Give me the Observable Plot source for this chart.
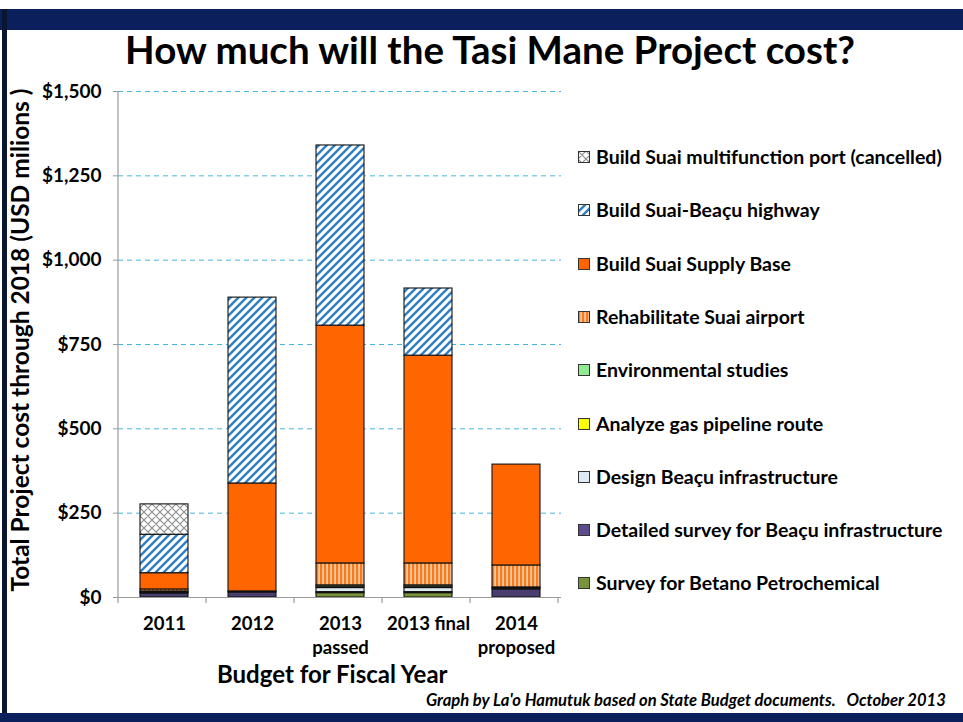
<!DOCTYPE html>
<html>
<head>
<meta charset="utf-8">
<script src="https://cdn.jsdelivr.net/npm/d3@7"></script>
<script src="https://cdn.jsdelivr.net/npm/@observablehq/plot@0.6"></script>
<style>
  html, body { margin: 0; padding: 0; background: #fff; }
  body { width: 963px; height: 722px; position: relative; overflow: hidden; font-family: Lato, "Open Sans", sans-serif; }
  .abs { position: absolute; }
  #topband { left: 0; top: 9px; width: 963px; height: 21px; background: #0b1f5c; }
  #leftband { left: 2px; top: 9px; width: 5px; height: 705px; background: #0a1530; }
  #botband { left: 0; top: 713px; width: 963px; height: 9px; background: #0b1f5c; }
  #title { left: 0; top: 26px; width: 980px; text-align: center; font-size: 38.5px; font-weight: 700; color: #000; white-space: nowrap; line-height: 46px; }
  #ylabel { width: 600px; left: -280px; top: 325px; text-align: center; font-size: 24.5px; font-weight: 700; transform: rotate(-90deg); white-space: nowrap; line-height: 30px; }
  #xlabel { left: 217px; top: 659px; font-size: 24px; font-weight: 700; white-space: nowrap; line-height: 30px; }
  #caption { left: 426px; top: 689px; font-size: 16.6px; font-weight: 700; font-style: italic; white-space: pre; line-height: 22px; }
  #chart { left: 0; top: 0; }
  #chart svg text { font-family: Lato, "Open Sans", sans-serif; font-weight: 700; }
  #legend { left: 578px; top: 0; }
  .lg { position: absolute; left: 0; white-space: nowrap; font-size: 19.5px; font-weight: 700; line-height: 24px; }
  .lg svg { vertical-align: middle; margin-right: 6px; position: relative; top: -2px; }
</style>
</head>
<body>
<div id="topband" class="abs"></div>
<div id="leftband" class="abs"></div>
<div id="botband" class="abs"></div>
<div id="chart" class="abs"></div>
<div id="title" class="abs">How much will the Tasi Mane Project cost?</div>
<div id="ylabel" class="abs">Total Project cost through 2018 (USD milions )</div>
<div id="xlabel" class="abs">Budget for Fiscal Year</div>
<div id="legend" class="abs"></div>
<div id="caption" class="abs">Graph by La'o Hamutuk based on State Budget documents.   October 2013</div>
<script>
// ---- data ----
const years = ["2011", "2012", "2013 passed", "2013 final", "2014 proposed"];
const yearLabels = ["2011", "2012", "2013\npassed", "2013 final", "2014\nproposed"];
const yTicks = [0, 250, 500, 750, 1000, 1250, 1500];

// series listed bottom-to-top of the stack
const seriesNames = [
  "Survey for Betano Petrochemical",
  "Detailed survey for Beaçu infrastructure",
  "Design Beaçu infrastructure",
  "Analyze gas pipeline route",
  "Environmental studies",
  "Rehabilitate Suai airport",
  "Build Suai Supply Base",
  "Build Suai-Beaçu highway",
  "Build Suai multifunction port (cancelled)"
];
const betano        = [0, 0, 13, 13, 0];
const detailedSurvey= [12, 15, 3, 3, 24];
const designBeacu   = [0, 0, 12, 12, 0];
const gasPipeline   = [3, 0, 4, 4, 3];
const environmental = [3, 3, 4, 4, 3];
const airport       = [6, 0, 65, 65, 65];
const supplyBase    = [48, 320, 705, 616, 299];
const highway       = [114, 551, 534, 199, 0];
const port          = [90, 0, 0, 0, 0];
const seriesValues = [betano, detailedSurvey, designBeacu, gasPipeline, environmental, airport, supplyBase, highway, port];

const seriesFills = [
  "#77933c", "#4a3d70", "#dde9f3", "#ffff00", "#92eb92",
  "url(#pAirport)", "#ff6600", "url(#pHighway)", "url(#pPort)"
];
const legendFills = [
  "#77933c", "#5d4b8c", "#dde9f3", "#ffff00", "#92eb92",
  "url(#pAirport)", "#ff6600", "url(#pHighway)", "url(#pPort)"
];

const rows = [];
seriesNames.forEach((s, si) => {
  years.forEach((yr, yi) => {
    const v = seriesValues[si][yi];
    if (v > 0) rows.push({year: yr, series: s, value: v});
  });
});

const labelOf = Object.fromEntries(years.map((y, i) => [y, yearLabels[i]]));

const svg = Plot.plot({
  width: 963,
  height: 712,
  marginLeft: 118,
  marginRight: 402,
  marginTop: 91,
  marginBottom: 115,
  style: {background: "transparent", overflow: "visible"},
  x: {domain: years, paddingInner: 0.46, paddingOuter: 0.23, label: null},
  y: {domain: [0, 1500], label: null},
  color: {domain: seriesNames, range: seriesFills},
  marks: [
    Plot.gridY(yTicks, {stroke: "#45b6de", strokeOpacity: 1, strokeDasharray: "5,4", strokeWidth: 1}),
    Plot.axisY(yTicks, {
      tickSize: 5, tickPadding: 12, stroke: "#9a9a9a", fill: "#000",
      fontSize: 19, fontWeight: "bold",
      tickFormat: d => "$" + d3.format(",")(d), label: null
    }),
    Plot.axisX({
      tickSize: 0, tickPadding: 15, fill: "#000", fontSize: 18.5, fontWeight: "bold",
      lineHeight: 1.3, tickFormat: d => labelOf[d], label: null
    }),
    Plot.barY(rows, {x: "year", y: "value", fill: "series", stroke: "#111", strokeWidth: 1.1}),
    Plot.ruleY([0], {stroke: "#9a9a9a", strokeWidth: 1.2})
  ]
});

// pattern definitions
const defs = d3.select(svg).insert("defs", ":first-child");
const pp = defs.append("pattern").attr("id", "pPort").attr("patternUnits", "userSpaceOnUse")
  .attr("width", 8).attr("height", 8);
pp.append("rect").attr("width", 8).attr("height", 8).attr("fill", "#ffffff");
pp.append("path").attr("d", "M0,0L8,8M8,0L0,8M-1,7L1,9M7,-1L9,1").attr("stroke", "#8a8a8a").attr("stroke-width", 1.1);
const ph = defs.append("pattern").attr("id", "pHighway").attr("patternUnits", "userSpaceOnUse")
  .attr("width", 8).attr("height", 8);
ph.append("rect").attr("width", 8).attr("height", 8).attr("fill", "#ffffff");
ph.append("path").attr("d", "M-2,2L2,-2M0,8L8,0M6,10L10,6").attr("stroke", "#2f7fc4").attr("stroke-width", 2.4);
const pa = defs.append("pattern").attr("id", "pAirport").attr("patternUnits", "userSpaceOnUse")
  .attr("width", 4).attr("height", 4);
pa.append("rect").attr("width", 4).attr("height", 4).attr("fill", "#fcc99a");
pa.append("rect").attr("width", 2.2).attr("height", 4).attr("fill", "#f57a22");

// axis line and category boundary ticks from the scales
const xs = svg.scale("x"), ys = svg.scale("y");
const g = d3.select(svg).append("g").attr("stroke", "#9a9a9a").attr("stroke-width", 1.2);
const x0 = xs.range[0];
g.append("line").attr("x1", x0).attr("x2", x0).attr("y1", ys.apply(0)).attr("y2", ys.apply(1500));
for (let i = 0; i <= years.length; i++) {
  const xb = x0 + xs.step * i;
  g.append("line").attr("x1", xb).attr("x2", xb).attr("y1", ys.apply(0)).attr("y2", ys.apply(0) + 6);
}
document.getElementById("chart").appendChild(svg);

// legend (top-to-bottom = reverse of stacking order)
const legend = d3.select("#legend");
const legendItems = seriesNames.map((s, i) => ({name: s, fill: legendFills[i]})).reverse();
legendItems.forEach((it, i) => {
  const row = legend.append("div").attr("class", "lg").style("top", (145 + i * 53.3) + "px");
  const sw = row.append("svg").attr("width", 12).attr("height", 12);
  sw.append("rect").attr("x", 0.5).attr("y", 0.5).attr("width", 11).attr("height", 11)
    .attr("fill", it.fill).attr("stroke", "#333").attr("stroke-width", 1);
  row.append("span").text(it.name);
});
</script>
</body>
</html>
